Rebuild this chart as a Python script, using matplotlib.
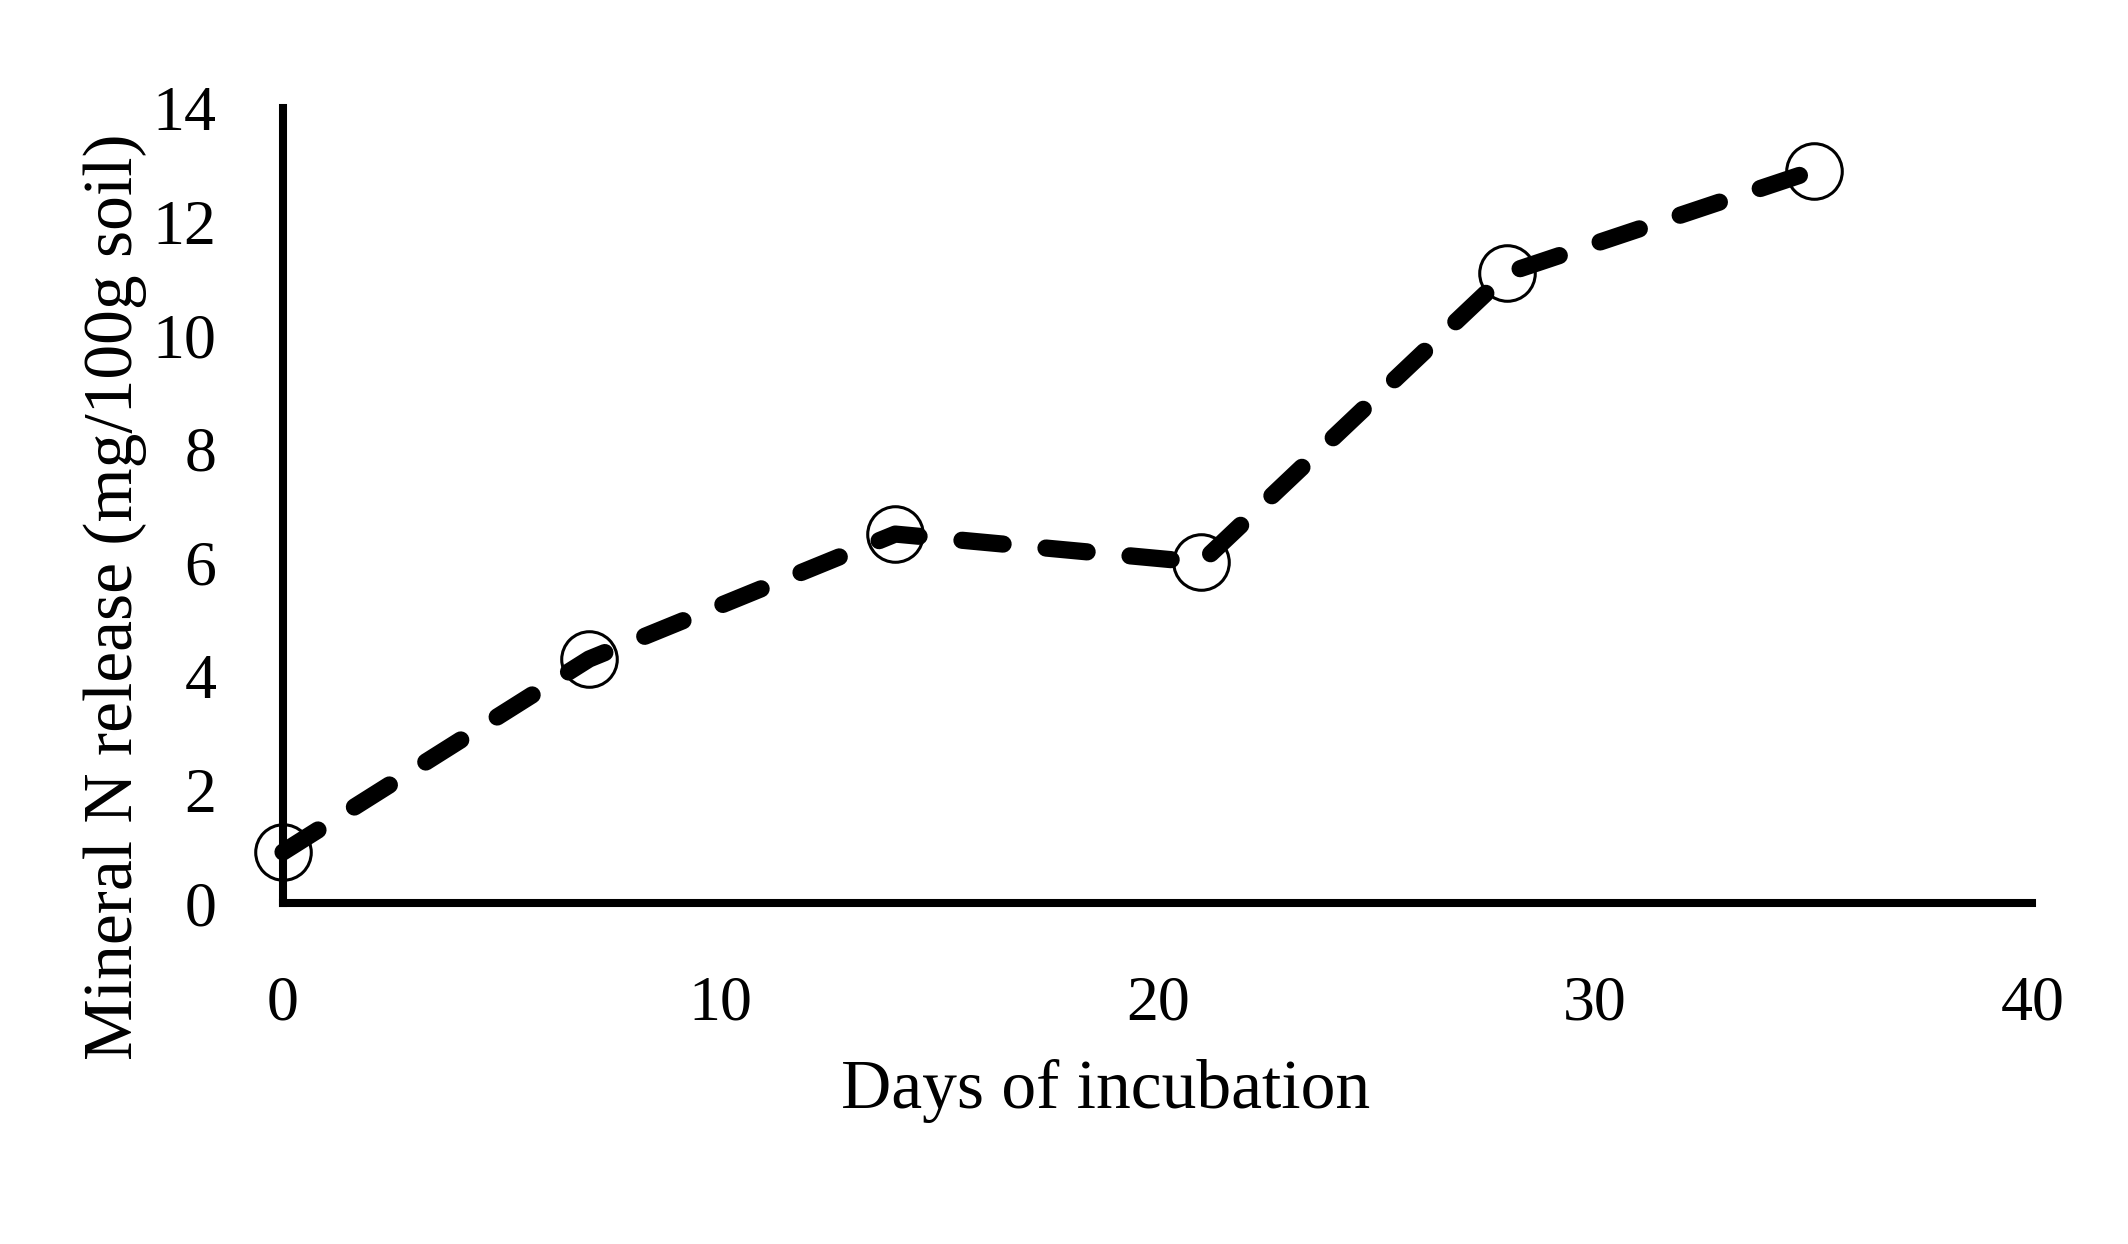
import matplotlib
matplotlib.use("Agg")
import matplotlib.pyplot as plt

# Data
days = [0, 7, 14, 21, 28, 35]
mineral_n = [0.9, 4.3, 6.5, 6.0, 11.1, 12.9]

x_ticks = [0, 10, 20, 30, 40]
y_ticks = [0, 2, 4, 6, 8, 10, 12, 14]

plt.rcParams['font.family'] = ['Liberation Serif', 'DejaVu Serif']

fig = plt.figure(figsize=(10.64, 6.22), dpi=200)
ax = fig.add_axes([0.133, 0.274, 0.822, 0.639])

# markers under the dashed line
ax.plot(days, mineral_n, linestyle='none', marker='o', markersize=20,
        markerfacecolor='white', markeredgecolor='black', markeredgewidth=1.1,
        clip_on=False, zorder=2)
line, = ax.plot(days, mineral_n, color='black', linewidth=6.2,
                linestyle='--', dash_capstyle='round', clip_on=False, zorder=3)
line.set_dashes((2.4, 2.5))

ax.set_xlim(0, 40)
ax.set_ylim(0, 14)
ax.set_xticks(x_ticks)
ax.set_yticks(y_ticks)
ax.tick_params(axis='both', length=0, labelsize=23)
ax.tick_params(axis='x', pad=26)
ax.tick_params(axis='y', pad=24)

for s in ['top', 'right']:
    ax.spines[s].set_visible(False)
for s in ['left', 'bottom']:
    ax.spines[s].set_linewidth(2.9)

ax.set_xlabel('Days of incubation', fontsize=25, va='center')
ax.set_ylabel('Mineral N release (mg/100g soil)', fontsize=25, va='center')
ax.xaxis.set_label_coords(0.47, -0.236)
ax.yaxis.set_label_coords(-0.096, 0.385)

fig.savefig('out.png', dpi=200)
